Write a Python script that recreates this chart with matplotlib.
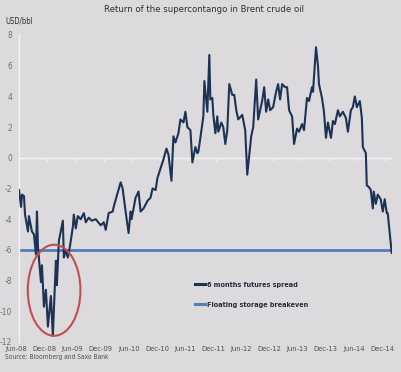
import matplotlib
matplotlib.use("Agg")
import matplotlib.pyplot as plt
from matplotlib.patches import Ellipse
from matplotlib.transforms import ScaledTranslation
from matplotlib import font_manager

# ---------------- data ----------------
dates = [
    2008.411, 2008.447, 2008.465, 2008.500, 2008.518, 2008.571, 2008.588, 2008.641, 2008.677, 2008.712,
    2008.730, 2008.748, 2008.801, 2008.819, 2008.854, 2008.889, 2008.925, 2008.978, 2009.013, 2009.031,
    2009.067, 2009.084, 2009.120, 2009.191, 2009.208, 2009.244, 2009.279, 2009.315, 2009.368, 2009.385,
    2009.421, 2009.456, 2009.509, 2009.563, 2009.598, 2009.651, 2009.704, 2009.775, 2009.864, 2009.917,
    2009.952, 2010.005, 2010.076, 2010.094, 2010.147, 2010.218, 2010.253, 2010.306, 2010.359, 2010.395,
    2010.412, 2010.483, 2010.536, 2010.572, 2010.625, 2010.696, 2010.749, 2010.785, 2010.838, 2010.873,
    2010.926, 2010.979, 2011.032, 2011.068, 2011.121, 2011.156, 2011.192, 2011.245, 2011.280, 2011.334,
    2011.369, 2011.404, 2011.458, 2011.493, 2011.546, 2011.582, 2011.599, 2011.635, 2011.688, 2011.706,
    2011.759, 2011.794, 2011.812, 2011.847, 2011.865, 2011.901, 2011.936, 2011.954, 2012.007, 2012.042,
    2012.078, 2012.113, 2012.149, 2012.202, 2012.237, 2012.273, 2012.308, 2012.379, 2012.432, 2012.468,
    2012.538, 2012.574, 2012.627, 2012.662, 2012.733, 2012.769, 2012.804, 2012.840, 2012.875, 2012.928,
    2012.981, 2013.017, 2013.052, 2013.088, 2013.141, 2013.176, 2013.212, 2013.265, 2013.300, 2013.353,
    2013.389, 2013.442, 2013.477, 2013.530, 2013.566, 2013.619, 2013.637, 2013.690, 2013.725, 2013.743,
    2013.796, 2013.832, 2013.867, 2013.902, 2013.956, 2013.991, 2014.026, 2014.080, 2014.115, 2014.168,
    2014.221, 2014.257, 2014.310, 2014.345, 2014.381, 2014.416, 2014.469, 2014.505, 2014.523, 2014.576,
    2014.593, 2014.629, 2014.664, 2014.700, 2014.717, 2014.753, 2014.788, 2014.841, 2014.877, 2014.912,
    2014.948, 2014.965, 2015.036,
]
spread = [
    -2.1, -3.2, -2.4, -2.5, -3.7, -4.8, -3.8, -4.8, -5.0, -6.3,
    -3.5, -5.8, -8.1, -7.0, -9.7, -8.6, -11.0, -9.0, -11.6, -9.9,
    -6.7, -8.3, -5.4, -4.1, -6.5, -6.0, -6.5, -5.8, -4.5, -3.7,
    -4.6, -3.8, -4.0, -3.6, -4.2, -3.9, -4.1, -4.0, -4.4, -4.2,
    -4.7, -3.6, -3.5, -3.2, -2.5, -1.6, -2.0, -3.5, -4.9, -3.5,
    -4.0, -2.6, -2.2, -3.5, -3.3, -2.8, -2.6, -2.0, -2.1, -1.3,
    -0.7, -0.1, 0.6, 0.2, -1.5, 1.4, 1.0, 1.6, 2.5, 2.3,
    3.0, 2.0, 1.8, -0.3, 0.7, 0.3, 0.4, 1.3, 2.7, 5.0,
    3.0, 6.7, 3.8, 3.9, 2.8, 1.6, 2.7, 1.7, 2.3, 2.0,
    0.9, 1.8, 4.8, 4.1, 4.1, 3.1, 2.5, 2.8, 1.8, -1.1,
    1.4, 2.0, 5.1, 2.5, 3.7, 4.6, 3.0, 3.8, 3.1, 3.3,
    4.3, 4.8, 3.8, 4.8, 4.6, 4.6, 3.1, 2.7, 0.9, 1.9,
    1.7, 2.2, 1.8, 3.9, 3.7, 4.6, 4.3, 7.2, 6.0, 4.8,
    3.9, 3.0, 1.3, 2.3, 1.3, 2.4, 2.2, 3.1, 2.7, 3.0,
    2.6, 1.7, 3.1, 3.3, 4.0, 3.3, 3.7, 2.6, 0.7, 0.3,
    -1.8, -1.9, -2.1, -3.3, -2.2, -3.0, -2.4, -2.7, -3.5, -2.7,
    -3.6, -3.6, -6.2,
]
breakeven = -6.0
tick_dates = [2008.417 + 0.5 * i for i in range(14)]
tick_labels = ["Jun-08", "Dec-08", "Jun-09", "Dec-09", "Jun-10", "Dec-10", "Jun-11",
               "Dec-11", "Jun-12", "Dec-12", "Jun-13", "Dec-13", "Jun-14", "Dec-14"]
y_ticks = [8, 6, 4, 2, 0, -2, -4, -6, -8, -10, -12]
series_names = ["6 months futures spread", "Floating storage breakeven"]

# ---------------- style ----------------
fonts = font_manager.fontManager.ttflist
names = {f.name for f in fonts}
stretch = "normal"
if "Liberation Sans Narrow" in names:
    fam = "Liberation Sans Narrow"
elif any(f.name == "DejaVu Sans" and str(f.stretch) in ("condensed", "semi-condensed") for f in fonts):
    fam = "DejaVu Sans"
    stretch = "condensed"
else:
    fam = "Liberation Sans"
plt.rcParams["font.family"] = [fam, "DejaVu Sans"]
plt.rcParams["font.stretch"] = stretch

BG = "#dcdadd"
NAVY = "#1c3355"
BLUE = "#4f7fbd"
LIGHT = "#f4f4f4"

fig = plt.figure(figsize=(4.01, 3.72), dpi=100, facecolor=BG)
ax = fig.add_axes([19 / 401, 1 - 342 / 372, (392 - 19) / 401, (342 - 35) / 372])
ax.set_facecolor(BG)

ax.plot(dates, spread, color=NAVY, lw=1.5, zorder=3, label=series_names[0])
ax.axhline(breakeven, color=BLUE, lw=2.0, zorder=2, label=series_names[1])
ax.axhline(0, color=LIGHT, lw=1.0, zorder=1)
ax.vlines(tick_dates[1:], -0.2, 0, color=LIGHT, lw=0.8, zorder=1)

ax.set_xlim(dates[0], dates[-1] + 0.005)
ax.set_ylim(-12, 8)

for s in ["top", "right", "bottom"]:
    ax.spines[s].set_visible(False)
ax.spines["left"].set_color(LIGHT)
ax.spines["left"].set_linewidth(1.0)

ax.set_yticks(y_ticks)
ax.set_yticklabels([str(v) for v in y_ticks])
ax.tick_params(axis="y", length=0, pad=5, labelsize=6.0, labelcolor="#707070")

ax.set_xticks(tick_dates)
ax.set_xticklabels(tick_labels)
ax.tick_params(axis="x", length=0, pad=3, labelsize=5.4, labelcolor="#505050")
off = ScaledTranslation(-3 / 100, 0, fig.dpi_scale_trans)
for lab in ax.get_xticklabels():
    lab.set_transform(lab.get_transform() + off)

# red circle annotation
ell = Ellipse((2009.035, -8.63), 0.936, 5.93, fill=False, edgecolor="#c0504d", lw=1.5, zorder=4)
ax.add_patch(ell)

# legend
leg = ax.legend(loc="upper left", bbox_to_anchor=(0.463, 0.205), frameon=False,
                handlelength=1.5, handletextpad=0.15, labelspacing=1.9, borderaxespad=0,
                prop={"family": [fam, "DejaVu Sans"], "stretch": stretch,
                      "size": 5.2, "weight": "bold"})
for t in leg.get_texts():
    t.set_color("#2a2a3a")
for h in leg.get_lines():
    h.set_linewidth(2.2)

fig.text(204 / 401, 1 - 10 / 372, "Return of the supercontango in Brent crude oil",
         ha="center", va="center", fontsize=6.8, color="#303030")
fig.text(5 / 401, 1 - 21 / 372, "USD/bbl", ha="left", va="center", fontsize=5.5, color="#303030")
fig.text(5 / 401, 1 - 357 / 372, "Source: Bloomberg and Saxo Bank", ha="left", va="center",
         fontsize=4.8, color="#505050")

fig.savefig("out.png", dpi=100, facecolor=BG)
